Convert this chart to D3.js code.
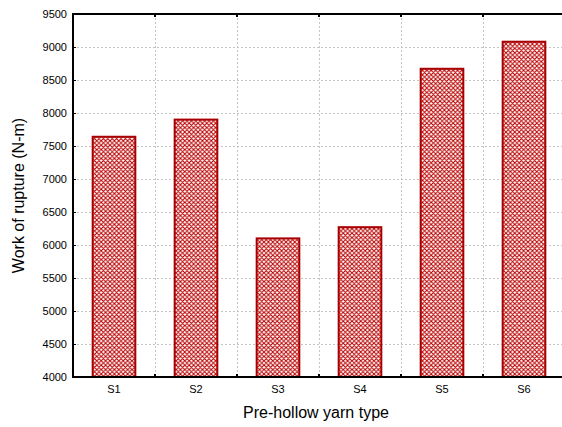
<!DOCTYPE html>
<html>
<head>
<meta charset="utf-8">
<script src="https://cdn.jsdelivr.net/npm/d3@7"></script>
<style>
  body { margin: 0; background: #fff; }
  svg { display: block; font-family: "Liberation Sans", Arial, sans-serif; }
</style>
</head>
<body>
<svg id="chart" width="562" height="427"></svg>
<script>
const categories = ["S1", "S2", "S3", "S4", "S5", "S6"];
const workValues = [7640, 7900, 6100, 6270, 8670, 9080];
const yTicks = [4000, 4500, 5000, 5500, 6000, 6500, 7000, 7500, 8000, 8500, 9000, 9500];

const margin = {top: 14, right: -3, bottom: 50, left: 73};
const width = 562, height = 427;

const svg = d3.select("#chart");

// crosshatch fill for the bars
const defs = svg.append("defs");
const pat = defs.append("pattern")
  .attr("id", "hatch")
  .attr("patternUnits", "userSpaceOnUse")
  .attr("width", 4.4).attr("height", 4.4);
pat.append("rect").attr("width", 4.4).attr("height", 4.4).attr("fill", "#fff");
pat.append("path")
  .attr("d", "M-1,1 l2,-2 M0,4.4 l4.4,-4.4 M3.4,5.4 l2,-2 M-1,3.4 l2,2 M0,0 l4.4,4.4 M3.4,-1 l2,2")
  .attr("stroke", "#b80000")
  .attr("stroke-width", 1.05);

const x = d3.scaleBand()
  .domain(categories)
  .range([margin.left, width - margin.right])
  .paddingInner(0)
  .paddingOuter(0);

const y = d3.scaleLinear()
  .domain([4000, 9500])
  .range([height - margin.bottom, margin.top]);

const x0 = margin.left, x1 = width - margin.right;
const y0 = height - margin.bottom, y1 = margin.top;

// grid
const grid = svg.append("g")
  .attr("stroke", "#c4c4c4")
  .attr("stroke-width", 1)
  .attr("stroke-dasharray", "2,2");
grid.selectAll(".hg")
  .data(yTicks.slice(1, -1))
  .join("line")
  .attr("x1", x0).attr("x2", x1)
  .attr("y1", d => Math.round(y(d)) + 0.5)
  .attr("y2", d => Math.round(y(d)) + 0.5);
grid.selectAll(".vg")
  .data(categories.slice(1))
  .join("line")
  .attr("x1", d => Math.round(x(d)) + 0.5)
  .attr("x2", d => Math.round(x(d)) + 0.5)
  .attr("y1", y1).attr("y2", y0);

// bars
const barW = x.bandwidth() * 0.52;
svg.append("g")
  .selectAll("rect")
  .data(workValues)
  .join("rect")
  .attr("x", (d, i) => x(categories[i]) + (x.bandwidth() - barW) / 2)
  .attr("y", d => y(d))
  .attr("width", barW)
  .attr("height", d => y(4000) - y(d))
  .attr("fill", "url(#hatch)")
  .attr("stroke", "#a80000")
  .attr("stroke-width", 2);

// frame
svg.append("path")
  .attr("d", `M${x1},${y1} H${x0} V${y0} H${x1}`)
  .attr("fill", "none")
  .attr("stroke", "#000")
  .attr("stroke-width", 2);

// y axis
const yAxis = d3.axisLeft(y)
  .tickValues(yTicks)
  .tickSize(-3)
  .tickPadding(6)
  .tickFormat(d3.format("d"));
svg.append("g")
  .attr("transform", `translate(${x0},0)`)
  .call(yAxis)
  .call(g => g.select(".domain").remove())
  .call(g => g.selectAll("text").attr("font-size", 11).attr("fill", "#000")
    .attr("font-family", "Liberation Sans, Arial, sans-serif"));

// x axis: labels at centres, ticks at boundaries
const xAxis = d3.axisBottom(x).tickSize(0).tickPadding(8);
svg.append("g")
  .attr("transform", `translate(0,${y0})`)
  .call(xAxis)
  .call(g => g.select(".domain").remove())
  .call(g => g.selectAll("text").attr("font-size", 11).attr("fill", "#000")
    .attr("font-family", "Liberation Sans, Arial, sans-serif"));

const bounds = categories.slice(1).map(c => Math.round(x(c)));
svg.append("g").attr("stroke", "#000").attr("stroke-width", 2)
  .selectAll("line")
  .data(bounds)
  .join("line")
  .attr("x1", d => d).attr("x2", d => d)
  .attr("y1", y0).attr("y2", y0 - 3);
svg.append("g").attr("stroke", "#000").attr("stroke-width", 2)
  .selectAll("line")
  .data(bounds)
  .join("line")
  .attr("x1", d => d).attr("x2", d => d)
  .attr("y1", y1).attr("y2", y1 + 3);

// titles
svg.append("text")
  .attr("x", (x0 + x1) / 2 - 3)
  .attr("y", 418)
  .attr("text-anchor", "middle")
  .attr("font-size", 16)
  .text("Pre-hollow yarn type");

svg.append("text")
  .attr("transform", `translate(24,${(y0 + y1) / 2}) rotate(-90)`)
  .attr("text-anchor", "middle")
  .attr("font-size", 16)
  .text("Work of rupture (N-m)");
</script>
</body>
</html>
